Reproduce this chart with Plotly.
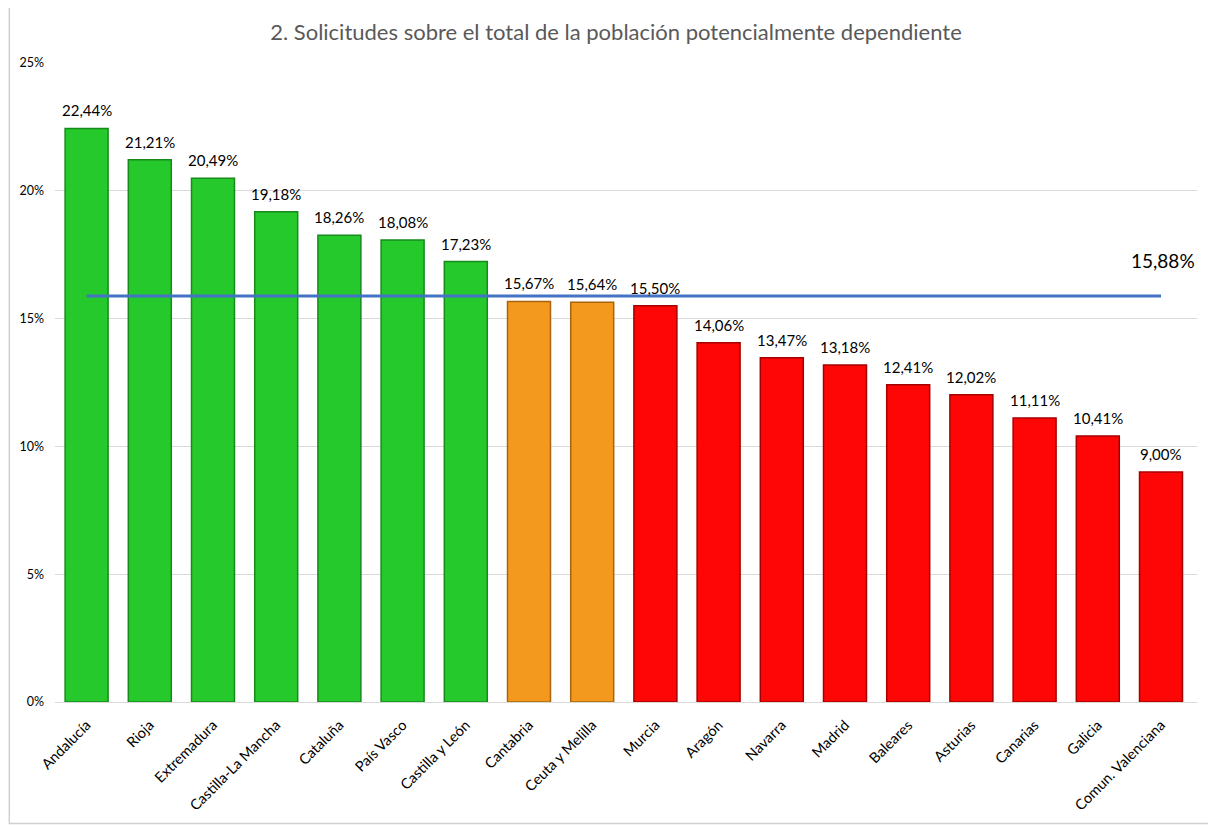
import plotly.graph_objects as go

categories = ["Andalucía", "Rioja", "Extremadura", "Castilla-La Mancha", "Cataluña",
              "País Vasco", "Castilla y León", "Cantabria", "Ceuta y Melilla", "Murcia",
              "Aragón", "Navarra", "Madrid", "Baleares", "Asturias", "Canarias",
              "Galicia", "Comun. Valenciana"]
values = [22.44, 21.21, 20.49, 19.18, 18.26, 18.08, 17.23, 15.67, 15.64, 15.50,
          14.06, 13.47, 13.18, 12.41, 12.02, 11.11, 10.41, 9.00]
average = 15.88
groups = ["alto"] * 7 + ["medio"] * 2 + ["bajo"] * 9
group_colors = {"alto": "#25C92B", "medio": "#F39A1E", "bajo": "#FE0606"}
group_edges = {"alto": "#178A1B", "medio": "#A8650F", "bajo": "#A50000"}

def fmt(v):
    return f"{v:.2f}".replace(".", ",") + "%"

font = "Lato, 'Open Sans', sans-serif"

fig = go.Figure()
fig.add_trace(go.Bar(
    x=categories, y=values,
    marker=dict(color=[group_colors[g] for g in groups],
                line=dict(color=[group_edges[g] for g in groups], width=1.5)),
    showlegend=False, hoverinfo="x+y",
))
fig.add_trace(go.Scatter(
    x=categories, y=[average] * len(categories), mode="lines",
    line=dict(color="#4472C4", width=3), showlegend=False, hoverinfo="skip",
))
for c, v in zip(categories, values):
    fig.add_annotation(x=c, y=v, text=fmt(v), showarrow=False,
                       xanchor="center", yanchor="bottom", yshift=7,
                       font=dict(size=15, color="#000000", family=font))
fig.add_annotation(x=categories[-1], y=average, text=fmt(average), showarrow=False,
                   xanchor="center", yanchor="bottom", xshift=2, yshift=22,
                   font=dict(size=19, color="#000000", family=font))

fig.update_layout(
    width=1216, height=825,
    paper_bgcolor="white", plot_bgcolor="white",
    margin=dict(l=47, r=27, t=55, b=131),
    bargap=0.32,
    title=dict(text="2. Solicitudes sobre el total de la población potencialmente dependiente",
               x=0.5, xanchor="center", y=0.971, yanchor="middle",
               font=dict(size=22, color="#595959", family=font)),
    font=dict(family=font),
    xaxis=dict(tickangle=-45, tickfont=dict(size=14.5, color="#000000"),
               showline=True, linecolor="#D9D9D9", linewidth=1, ticks="",
               ticklabelstandoff=8),
    yaxis=dict(range=[0, 25], dtick=5, ticksuffix="%", showgrid=True,
               gridcolor="#D9D9D9", gridwidth=1, zeroline=False,
               tickfont=dict(size=12.5, color="#000000"), ticklabelstandoff=10),
    shapes=[dict(type="rect", xref="paper", yref="paper",
                 x0=-0.04, x1=1.012, y0=-0.19, y1=1.088,
                 line=dict(color="#D0D0D0", width=1.5))],
)
fig.write_html("out.html")
